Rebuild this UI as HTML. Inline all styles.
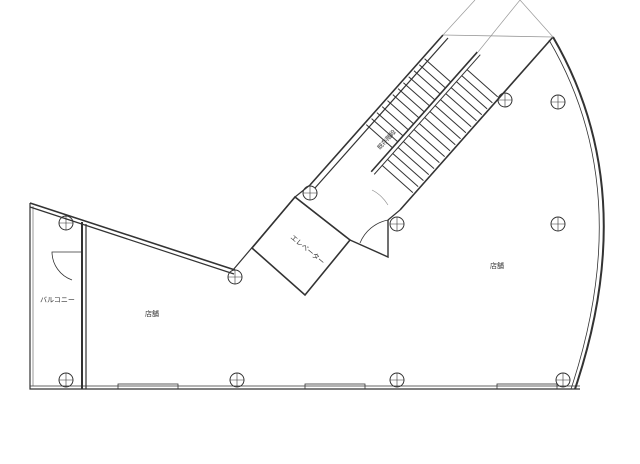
<!DOCTYPE html>
<html><head><meta charset="utf-8"><style>
html,body{margin:0;padding:0;background:#fff;}
svg{display:block}
text{font-family:"Liberation Sans","Noto Sans CJK JP",sans-serif;fill:#333}
</style></head><body>
<svg width="640" height="464" viewBox="0 0 640 464" xmlns="http://www.w3.org/2000/svg">
<g fill="none" stroke="#333" stroke-width="1.2">
<polyline points="30,203 30,389 580,389"/>
<line x1="33" y1="206" x2="33" y2="386" stroke="#aaa"/>
<line x1="30" y1="203" x2="235" y2="270" stroke-width="1.6"/>
<line x1="30" y1="207" x2="234" y2="274"/>
<line x1="82" y1="222" x2="82" y2="389" stroke-width="2"/>
<line x1="86" y1="224" x2="86" y2="389"/>
<path d="M82,252 L52,252 A30,30 0 0 0 72,280" stroke-width="0.8"/>
<line x1="30" y1="386" x2="580" y2="386" stroke-width="0.8"/>
<rect x="118" y="384" width="60" height="5" stroke-width="0.8"/>
<rect x="305" y="384" width="60" height="5" stroke-width="0.8"/>
<rect x="497" y="384" width="60" height="5" stroke-width="0.8"/>
<path d="M553,37 Q642,190 575,389" stroke-width="2"/>
<path d="M549,40 Q637,190 571,389" stroke-width="0.8"/>
<line x1="443" y1="35" x2="310" y2="185" stroke-width="1.6"/>
<line x1="448" y1="38" x2="315" y2="188"/>
<line x1="553" y1="37" x2="400" y2="210" stroke-width="1.6"/>
<line x1="443" y1="35" x2="553" y2="37" stroke="#999" stroke-width="0.8"/>
<line x1="443" y1="35" x2="475" y2="0" stroke="#999" stroke-width="0.7"/>
<line x1="478" y1="52" x2="520" y2="0" stroke="#999" stroke-width="0.7"/>
<line x1="553" y1="37" x2="520" y2="0" stroke="#999" stroke-width="0.7"/>
<g transform="matrix(0.748,0.663,-0.663,0.748,443,35)" stroke-width="1">
<line x1="37" y1="-10" x2="37" y2="150" stroke-width="1.6"/>
<line x1="41" y1="-10" x2="41" y2="150"/>
<line x1="2" y1="30" x2="37" y2="30"/><line x1="2" y1="38" x2="37" y2="38"/><line x1="2" y1="46" x2="37" y2="46"/><line x1="2" y1="54" x2="37" y2="54"/><line x1="2" y1="62" x2="37" y2="62"/><line x1="2" y1="70" x2="37" y2="70"/><line x1="2" y1="78" x2="37" y2="78"/><line x1="2" y1="86" x2="37" y2="86"/><line x1="2" y1="94" x2="37" y2="94"/><line x1="2" y1="102" x2="37" y2="102"/><line x1="2" y1="110" x2="37" y2="110"/><line x1="2" y1="118" x2="37" y2="118"/>
<line x1="41" y1="10" x2="82" y2="10"/><line x1="41" y1="18" x2="82" y2="18"/><line x1="41" y1="26" x2="82" y2="26"/><line x1="41" y1="34" x2="82" y2="34"/><line x1="41" y1="42" x2="82" y2="42"/><line x1="41" y1="50" x2="82" y2="50"/><line x1="41" y1="58" x2="82" y2="58"/><line x1="41" y1="66" x2="82" y2="66"/><line x1="41" y1="74" x2="82" y2="74"/><line x1="41" y1="82" x2="82" y2="82"/><line x1="41" y1="90" x2="82" y2="90"/><line x1="41" y1="98" x2="82" y2="98"/><line x1="41" y1="106" x2="82" y2="106"/><line x1="41" y1="114" x2="82" y2="114"/><line x1="41" y1="122" x2="82" y2="122"/><line x1="41" y1="130" x2="82" y2="130"/><line x1="41" y1="138" x2="82" y2="138"/>
</g>
<polygon points="252,248 295,197 350,240 305,295" stroke-width="1.6"/>
<line x1="300" y1="201" x2="346" y2="237"/>
<line x1="233" y1="270" x2="295" y2="197"/>
<line x1="310" y1="185" x2="295" y2="197"/>
<polyline points="350,240 388,257 388,220" stroke-width="1.4"/>
<path d="M388,220 A38,38 0 0 0 360,243" stroke-width="0.8"/>
<path d="M388,205 A40,40 0 0 0 372,190" stroke-width="0.6" stroke="#888"/>
<line x1="388" y1="220" x2="400" y2="210"/>
<g stroke-width="1">
<circle cx="66" cy="223" r="7"/><circle cx="66" cy="380" r="7"/><circle cx="237" cy="380" r="7"/><circle cx="397" cy="380" r="7"/><circle cx="563" cy="380" r="7"/>
<circle cx="235" cy="277" r="7"/><circle cx="310" cy="193" r="7"/><circle cx="397" cy="224" r="7"/><circle cx="505" cy="100" r="7"/><circle cx="558" cy="102" r="7"/><circle cx="558" cy="224" r="7"/>
</g>
<g stroke-width="0.6">
<path d="M59,223h14M66,216v14M59,380h14M66,373v14M230,380h14M237,373v14M390,380h14M397,373v14M556,380h14M563,373v14M228,277h14M235,270v14M303,193h14M310,186v14M390,224h14M397,217v14M498,100h14M505,93v14M551,102h14M558,95v14M551,224h14M558,217v14"/>
</g>
</g>
<text x="40" y="302" font-size="7">バルコニー</text>
<text x="145" y="316" font-size="7">店舗</text>
<text x="490" y="268" font-size="7">店舗</text>
<text x="290" y="238" font-size="7" transform="rotate(40 290 238)">エレベーター</text>
<text x="380" y="150" font-size="6" transform="rotate(-48 380 150)">既存階段</text>
</svg>
</body></html>
